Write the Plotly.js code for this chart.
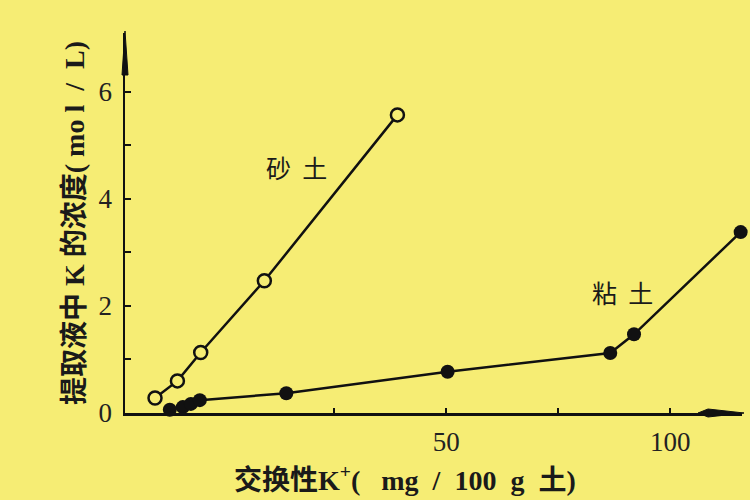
<!DOCTYPE html>
<html>
<head>
<meta charset="utf-8">
<script src="https://cdn.plot.ly/plotly-3.0.1.min.js"></script>
<style>html,body{margin:0;padding:0;background:#f6ed74;}</style>
</head>
<body>
<div id="chart" style="width:750px;height:500px;"></div>
<script>
// Sandy soil (open circles)
const sandX = [-15, -10, -4.8, 9.4, 39.1];
const sandY = [0.28, 0.60, 1.13, 2.47, 5.57];
// Clay soil (filled circles)
const clayX = [-11.7, -8.8, -7.0, -5.0, 14.3, 50.3, 86.6, 91.9, 115.7];
const clayY = [0.06, 0.11, 0.17, 0.24, 0.37, 0.77, 1.12, 1.47, 3.38];

const xTickVals = [50, 100];
const xMinorVals = [25, 75];
const yTickVals = [0, 2, 4, 6];
const yMinorVals = [1, 3, 5];

const seriesNames = ['砂&nbsp;&nbsp;土', '粘&nbsp;&nbsp;土'];
const labelPos = [[16.6, 4.6], [89.4, 2.26]];
const xTitle = '交换性K<sup>+</sup>(&nbsp;&nbsp; mg&nbsp; /&nbsp; 100&nbsp; g&nbsp; 土)';
const yTitle = '提取液中 K 的浓度(&nbsp;mo l&nbsp; /&nbsp; L)';

const bg = '#f6ed74';
const ink = '#111111';

const traces = [
  {
    x: sandX, y: sandY, mode: 'lines+markers', type: 'scatter', name: '砂土',
    line: {color: ink, width: 2.5},
    marker: {symbol: 'circle', size: 13, color: bg, line: {color: ink, width: 2.5}},
    cliponaxis: false
  },
  {
    x: clayX, y: clayY, mode: 'lines+markers', type: 'scatter', name: '粘土',
    line: {color: ink, width: 2.5},
    marker: {symbol: 'circle', size: 14, color: ink},
    cliponaxis: false
  }
];

function px(xp){ return (xp - 125) / 617; }
function py(yp){ return (413 - yp) / 380; }

const tickFont = {family: 'Liberation Serif, DejaVu Serif, serif', size: 27, color: '#222'};
const titleFont = {family: 'Liberation Serif, Noto Sans CJK SC, serif', size: 28, color: '#1a1a1a', weight: 'bold'};

const layout = {
  width: 750, height: 500,
  margin: {l: 125, r: 8, t: 33, b: 87},
  paper_bgcolor: bg, plot_bgcolor: bg,
  showlegend: false,
  xaxis: {
    range: [-21.7, 116], showgrid: false, zeroline: false,
    showline: true, linecolor: ink, linewidth: 2.5,
    tickmode: 'array', tickvals: xTickVals,
    ticks: 'inside', ticklen: 5, tickwidth: 2, tickcolor: ink,
    minor: {tickmode: 'array', tickvals: xMinorVals, ticks: 'inside', ticklen: 5, tickwidth: 2, tickcolor: ink, showgrid: false},
    ticklabelstandoff: 3,
    tickfont: tickFont
  },
  yaxis: {
    range: [0, 7.1], showgrid: false, zeroline: false,
    showline: true, linecolor: ink, linewidth: 2.5,
    tickmode: 'array', tickvals: yTickVals,
    ticks: 'inside', ticklen: 6, tickwidth: 2, tickcolor: ink,
    minor: {tickmode: 'array', tickvals: yMinorVals, ticks: 'inside', ticklen: 6, tickwidth: 2, tickcolor: ink, showgrid: false},
    ticklabelstandoff: 5,
    tickfont: tickFont,
    title: {text: '<b>' + yTitle + '</b>', standoff: 6, font: titleFont}
  },
  annotations: seriesNames.map((n, i) => ({
    x: labelPos[i][0], y: labelPos[i][1], xref: 'x', yref: 'y',
    text: n, showarrow: false,
    font: {family: 'Noto Sans CJK SC, sans-serif', size: 25, color: '#1a1a1a'}
  })).concat([{
    x: px(405), y: py(478), xref: 'paper', yref: 'paper',
    xanchor: 'center', yanchor: 'middle',
    text: '<b>' + xTitle + '</b>', showarrow: false, font: titleFont
  }]),
  shapes: [
    {type: 'path', xref: 'paper', yref: 'paper', fillcolor: ink, line: {color: ink, width: 1},
     path: `M ${px(125)},${py(31)} L ${px(128)},${py(75)} L ${px(122)},${py(75)} Z`},
    {type: 'path', xref: 'paper', yref: 'paper', fillcolor: ink, line: {color: ink, width: 1},
     path: `M ${px(744)},${py(413)} L ${px(708)},${py(409)} L ${px(698)},${py(413)} L ${px(708)},${py(417)} Z`}
  ]
};

Plotly.newPlot('chart', traces, layout, {displayModeBar: false, staticPlot: true});
</script>
</body>
</html>
